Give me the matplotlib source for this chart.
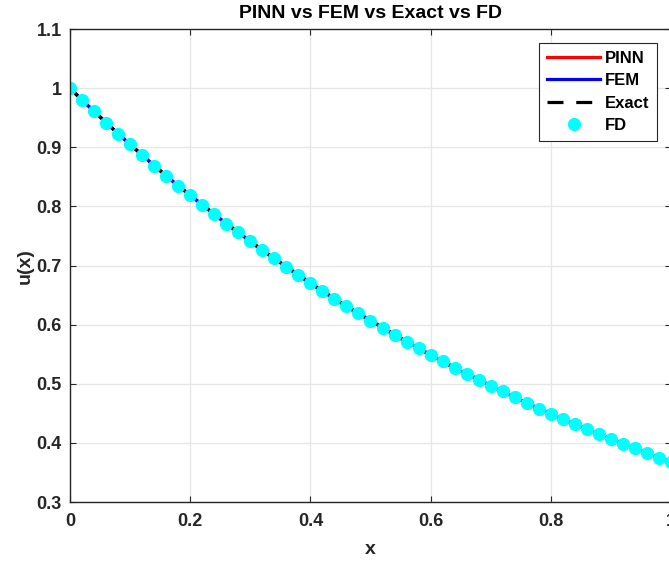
import numpy as np
import matplotlib
matplotlib.use('Agg')
import matplotlib.pyplot as plt

plt.rcParams['font.family'] = ['Liberation Sans', 'DejaVu Sans']
plt.rcParams['font.weight'] = 'bold'

# grid points and solution values
x = np.linspace(0, 1, 51)
u_fd = [1.000, 0.980, 0.961, 0.942, 0.923, 0.905, 0.887, 0.869, 0.852, 0.835,
        0.819, 0.803, 0.787, 0.771, 0.756, 0.741, 0.726, 0.712, 0.698, 0.684,
        0.670, 0.657, 0.644, 0.631, 0.619, 0.607, 0.595, 0.583, 0.571, 0.560,
        0.549, 0.538, 0.527, 0.517, 0.507, 0.497, 0.487, 0.477, 0.468, 0.458,
        0.449, 0.440, 0.432, 0.423, 0.415, 0.407, 0.399, 0.391, 0.383, 0.375,
        0.368]
u_pinn = list(u_fd)
u_fem = list(u_fd)
u_exact = list(u_fd)

fig = plt.figure(figsize=(6.69, 5.63), dpi=100)
ax = fig.add_axes([0.1046, 0.1083, 0.8984, 0.840])

ax.plot(x, u_pinn, color='red', lw=2.3, label='PINN')
ax.plot(x, u_fem, color='blue', lw=2.3, label='FEM')
ax.plot(x, u_exact, color='black', lw=2.3, ls=(0, (5, 4)), label='Exact')
ax.plot(x, u_fd, 'o', color='cyan', ms=8.5, mec='cyan', label='FD')

ax.set_xlim(0, 1)
ax.set_ylim(0.3, 1.1)
ax.set_xticks([0, 0.2, 0.4, 0.6, 0.8, 1])
ax.set_xticklabels(['0', '0.2', '0.4', '0.6', '0.8', '1'])
ax.set_yticks([0.3, 0.4, 0.5, 0.6, 0.7, 0.8, 0.9, 1.0, 1.1])
ax.set_yticklabels(['0.3', '0.4', '0.5', '0.6', '0.7', '0.8', '0.9', '1', '1.1'])
ax.tick_params(labelsize=13, direction='in', length=4, color='#262626',
               labelcolor='#262626', top=True, right=True)
ax.tick_params(axis='x', pad=8)
ax.tick_params(axis='y', pad=6)
ax.grid(True, color='#e6e6e6', lw=0.9)
ax.set_axisbelow(True)
for s in ax.spines.values():
    s.set_color('#262626')
    s.set_linewidth(1.0)

ax.set_xlabel('x', fontsize=14, fontweight='bold', color='#262626', labelpad=8)
ax.set_ylabel('u(x)', fontsize=14, fontweight='bold', color='#262626', labelpad=2)
ax.set_title('PINN vs FEM vs Exact vs FD', fontsize=14, fontweight='bold', pad=8)

leg = ax.legend(loc='upper right', bbox_to_anchor=(0.977, 0.970), fontsize=12,
                fancybox=False, edgecolor='#262626', framealpha=1,
                handlelength=3.2, handletextpad=0.3, borderpad=0.45,
                labelspacing=0.45, borderaxespad=0)
leg.get_frame().set_linewidth(0.8)

fig.savefig('out.png', dpi=100)
